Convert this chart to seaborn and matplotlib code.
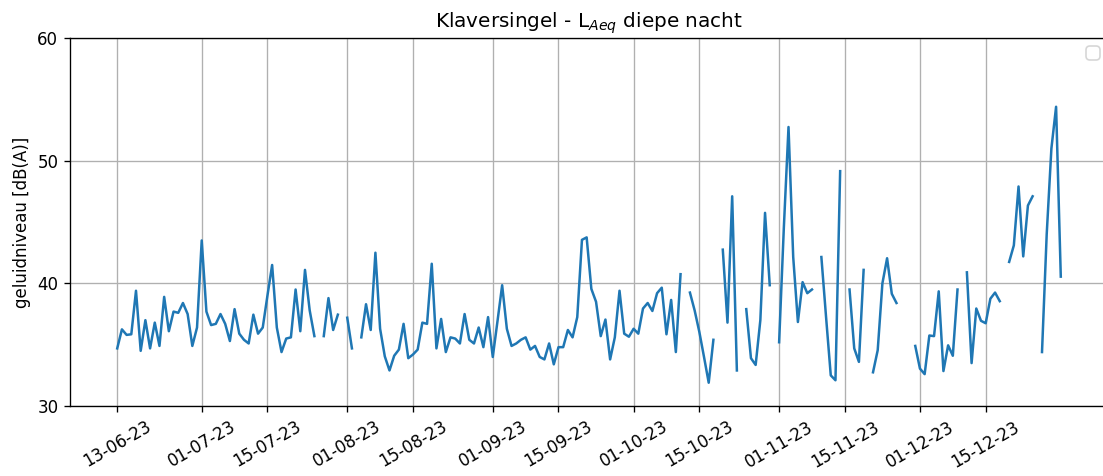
import numpy as np
import pandas as pd
import matplotlib
matplotlib.use('Agg')
import matplotlib.pyplot as plt
import matplotlib.dates as mdates
import seaborn as sns

nan = np.nan

# nightly LAeq values, one per day, starting 13-06-2023 (nan = no data)
jun_vals = [34.7, 36.25, 35.8, 35.85, 39.4, 34.5, 37.0, 34.7, 36.8, 34.9,
            38.9, 36.1, 37.7, 37.6, 38.4, 37.5, 34.9, 36.4]
jul_vals = [43.5, 37.7, 36.6, 36.7, 37.5, 36.7, 35.3, 37.9, 35.9, 35.4,
            35.1, 37.45, 35.9, 36.4, 39.0, 41.5, 36.4, 34.4, 35.5, 35.6,
            39.5, 36.1, 41.1, 37.8, 35.7, nan, 35.7, 38.8, 36.2, 37.45, nan]
aug_vals = [37.2, 34.7, nan, 35.6, 38.3, 36.2, 42.5, 36.3, 34.05, 32.9,
            34.1, 34.6, 36.7, 33.9, 34.2, 34.6, 36.8, 36.7, 41.6, 34.7,
            37.1, 34.4, 35.6, 35.5, 35.1, 37.5, 35.4, 35.1, 36.4, 34.8, 37.25]
sep_vals = [34.0, 36.9, 39.85, 36.3, 34.9, 35.1, 35.4, 35.6, 34.6, 34.9,
            34.0, 33.8, 35.1, 33.4, 34.8, 34.8, 36.2, 35.6, 37.25, 43.55,
            43.75, 39.55, 38.5, 35.7, 37.05, 33.8, 35.6, 39.4, 35.9, 35.65]
oct_vals = [36.3, 35.9, 37.95, 38.4, 37.75, 39.2, 39.65, 35.85, 38.65, 34.4,
            40.75, nan, 39.25, 37.8, 36.05, 34.0, 31.9, 35.4, nan, 42.75,
            36.8, 47.1, 32.9, nan, 37.9, 33.9, 33.35, 37.0, 45.75, 39.85, nan]
nov_vals = [35.2, 44.5, 52.75, 42.15, 36.85, 40.1, 39.2, 39.5, nan, 42.15,
            37.25, 32.5, 32.1, 49.15, nan, 39.5, 34.7, 33.6, 41.1, nan,
            32.75, 34.55, 40.0, 42.05, 39.15, 38.4, nan, nan, nan, 34.9]
dec_vals = [33.05, 32.6, 35.75, 35.7, 39.35, 32.85, 34.95, 34.1, 39.5, nan,
            40.9, 33.5, 37.95, 36.95, 36.75, 38.75, 39.25, 38.55, nan, 41.75,
            43.1, 47.9, 42.2, 46.35, 47.1, nan, 34.4, 44.0, 51.0, 54.4, 40.55]

tick_labels = ['13-06-23', '01-07-23', '15-07-23', '01-08-23', '15-08-23',
               '01-09-23', '15-09-23', '01-10-23', '15-10-23', '01-11-23',
               '15-11-23', '01-12-23', '15-12-23']

values = jun_vals + jul_vals + aug_vals + sep_vals + oct_vals + nov_vals + dec_vals
dates = pd.date_range('2023-06-13', periods=len(values), freq='D')
df = pd.DataFrame({'datum': dates, 'laeq': values})
# segment id so gaps are not bridged
df['seg'] = df['laeq'].isna().cumsum()
df = df.dropna()

fig = plt.figure(figsize=(1103 / 120, 476 / 120), dpi=120)
ax = fig.add_axes([0.0635, 0.147, 0.941, 0.773])

sns.lineplot(data=df, x='datum', y='laeq', units='seg', estimator=None,
             color='#1f77b4', linewidth=1.5, ax=ax)

ax.set_ylim(30, 60)
ax.set_yticks([30, 40, 50, 60])
ticks = pd.to_datetime(tick_labels, format='%d-%m-%y')
ax.set_xticks(ticks)
ax.xaxis.set_major_formatter(mdates.DateFormatter('%d-%m-%y'))
plt.setp(ax.get_xticklabels(), rotation=30)
ax.grid(True)
ax.set_xlabel('')
ax.set_ylabel('geluidniveau [dB(A)]')
ax.set_title('Klaversingel - L$_{Aeq}$ diepe nacht')
ax.legend(handles=[], loc='upper right')

fig.savefig('out.png', dpi=120)
